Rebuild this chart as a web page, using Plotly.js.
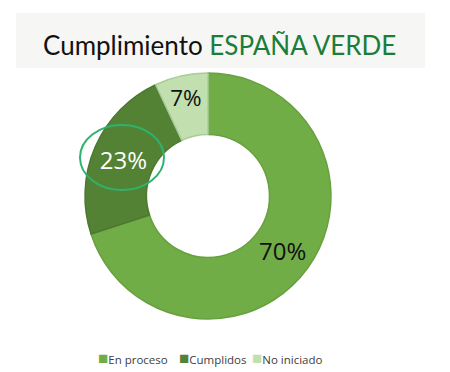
<!DOCTYPE html>
<html>
<head>
<meta charset="utf-8">
<script src="https://cdn.plot.ly/plotly-3.0.1.min.js"></script>
<style>html,body{margin:0;padding:0;background:#fff;}#chart{width:450px;height:372px;}</style>
</head>
<body>
<div id="chart"></div>
<script>
const categories = ["En proceso", "Cumplidos", "No iniciado"];
const values = [70, 23, 7];
const sliceColors = ["#70ad47", "#548235", "#c2dfb0"];
const lineColors = ["#68a03f", "#4c7830", "#aacb96"];
const textColors = ["#111111", "#ffffff", "#111111"];
const titleMain = "Cumplimiento";
const titleGreen = "ESPAÑA VERDE";

const W = 450, H = 372;
const px = x => x / W;
const py = y => 1 - y / H;

const trace = {
  type: "pie",
  labels: categories,
  values: values,
  hole: 0.5,
  sort: false,
  direction: "clockwise",
  rotation: 0,
  marker: { colors: sliceColors, line: { color: lineColors, width: 1.5 } },
  textinfo: "percent",
  texttemplate: "%{percent:.0%}",
  textposition: "inside",
  insidetextorientation: "horizontal",
  insidetextfont: { family: "'Open Sans', sans-serif", size: 24, color: textColors },
  hoverinfo: "none",
  showlegend: false,
  domain: { x: [px(85), px(331)], y: [py(319), py(73)] }
};

const legendStartX = [96, 177, 250];
const legendAnn = categories.map((c, i) => ({
  xref: "paper", yref: "paper", x: px(legendStartX[i]), y: py(357),
  xanchor: "left", yanchor: "middle", showarrow: false,
  text: "<span style='color:" + sliceColors[i] + ";font-size:17px'>■</span>" + c,
  font: { family: "'Open Sans', sans-serif", size: 11.5, color: "#404040" }
}));

const layout = {
  width: W, height: H,
  margin: { l: 0, r: 0, t: 0, b: 0 },
  paper_bgcolor: "#ffffff",
  plot_bgcolor: "#ffffff",
  showlegend: false,
  shapes: [
    { type: "rect", xref: "paper", yref: "paper", layer: "below",
      x0: px(16), x1: px(425), y0: py(68), y1: py(13),
      fillcolor: "#f6f6f4", line: { width: 0 } },
    { type: "circle", xref: "paper", yref: "paper", layer: "above",
      x0: px(80), x1: px(164), y0: py(190), y1: py(125),
      line: { color: "#2db36e", width: 2 } }
  ],
  annotations: [
    { xref: "paper", yref: "paper", x: px(219), y: py(45), xanchor: "center", yanchor: "middle",
      showarrow: false,
      text: titleMain + " <span style='color:#1a7d3a'>" + titleGreen + "</span>",
      font: { family: "Lato, 'Open Sans', sans-serif", size: 26, color: "#111111" } }
  ].concat(legendAnn)
};

Plotly.newPlot("chart", [trace], layout, { displayModeBar: false, staticPlot: true });
</script>
</body>
</html>
